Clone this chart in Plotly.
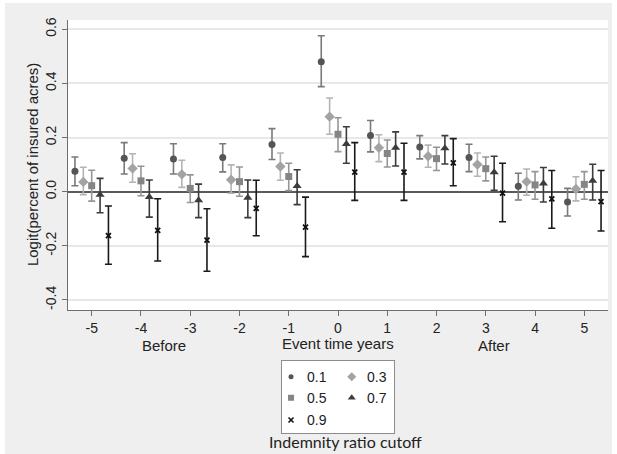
import plotly.graph_objects as go

# ---------------- data ----------------
event_time = [-5, -4, -3, -2, -1, 0, 1, 2, 3, 4, 5]
x_tick_labels = ["-5", "-4", "-3", "-2", "-1", "0", "1", "2", "3", "4", "5"]
y_tick_vals = [-0.4, -0.2, 0.0, 0.2, 0.4, 0.6]
y_tick_labels = ["-0.4", "-0.2", "0.0", "0.2", "0.4", "0.6"]

est_01 = [0.075, 0.123, 0.121, 0.126, 0.174, 0.480, 0.207, 0.165, 0.126, 0.020, -0.038]
hi_01 = [0.128, 0.181, 0.177, 0.177, 0.233, 0.576, 0.263, 0.207, 0.175, 0.068, 0.012]
lo_01 = [0.022, 0.065, 0.065, 0.073, 0.119, 0.388, 0.147, 0.121, 0.074, -0.031, -0.090]

est_03 = [0.036, 0.086, 0.064, 0.044, 0.093, 0.277, 0.162, 0.131, 0.100, 0.037, 0.010]
hi_03 = [0.090, 0.140, 0.116, 0.099, 0.143, 0.346, 0.210, 0.172, 0.143, 0.084, 0.055]
lo_03 = [-0.011, 0.035, 0.016, -0.006, 0.042, 0.212, 0.111, 0.090, 0.057, -0.013, -0.034]

est_05 = [0.022, 0.040, 0.012, 0.037, 0.056, 0.212, 0.141, 0.122, 0.085, 0.025, 0.027]
hi_05 = [0.079, 0.094, 0.062, 0.091, 0.105, 0.273, 0.191, 0.164, 0.128, 0.074, 0.074]
lo_05 = [-0.035, -0.015, -0.040, -0.017, 0.004, 0.148, 0.091, 0.078, 0.040, -0.028, -0.028]

est_07 = [-0.011, -0.020, -0.032, -0.022, 0.021, 0.176, 0.162, 0.160, 0.072, 0.030, 0.040]
hi_07 = [0.049, 0.043, 0.028, 0.043, 0.081, 0.240, 0.221, 0.207, 0.131, 0.089, 0.101]
lo_07 = [-0.078, -0.094, -0.096, -0.096, -0.048, 0.105, 0.095, 0.102, 0.005, -0.038, -0.031]

est_09 = [-0.162, -0.143, -0.179, -0.062, -0.131, 0.072, 0.072, 0.106, -0.005, -0.027, -0.037]
hi_09 = [-0.053, -0.026, -0.063, 0.042, -0.020, 0.181, 0.179, 0.196, 0.105, 0.078, 0.078]
lo_09 = [-0.268, -0.256, -0.294, -0.163, -0.240, -0.032, -0.032, 0.022, -0.111, -0.135, -0.145]

cutoff_labels = ["0.1", "0.3", "0.5", "0.7", "0.9"]

# ---------------- styles ----------------
FONT = "Liberation Sans, Arial, sans-serif"
series = [
    # est, lo, hi, offset, symbol, size, marker color, ci color
    (est_01, lo_01, hi_01, -0.34, "circle", 7, "#555555", "#7a7a7a"),
    (est_03, lo_03, hi_03, -0.17, "diamond", 8, "#a3a3a3", "#b4b4b4"),
    (est_05, lo_05, hi_05, 0.0, "square", 7, "#858585", "#969696"),
    (est_07, lo_07, hi_07, 0.17, "triangle-up", 8, "#3c3c3c", "#3c3c3c"),
    (est_09, lo_09, hi_09, 0.34, "x-thin", 5, "#111111", "#1a1a1a"),
]

fig = go.Figure()
for lab, (est, lo, hi, off, sym, size, mcol, ccol) in zip(cutoff_labels, series):
    xs = [t + off for t in event_time]
    marker = dict(symbol=sym, size=size, color=mcol)
    if sym == "x-thin":
        marker["line"] = dict(color=mcol, width=1.8)
    fig.add_trace(go.Scatter(
        x=xs, y=est, mode="markers", name=lab, showlegend=False,
        marker=marker,
        error_y=dict(type="data", symmetric=False,
                     array=[h - e for h, e in zip(hi, est)],
                     arrayminus=[e - l for e, l in zip(est, lo)],
                     color=ccol, thickness=1.6, width=3.5),
        xaxis="x", yaxis="y",
    ))

# ---------------- manual legend (second axes) ----------------
leg_col_x = [0.083, 0.622]
leg_text_x = [0.207, 0.74]
leg_row_y = [0.783, 0.492, 0.184]
leg_sizes = {"circle": 5, "diamond": 7, "square": 6, "triangle-up": 7, "x-thin": 5}
annotations = []
for i, (lab, (est, lo, hi, off, sym, size, mcol, ccol)) in enumerate(zip(cutoff_labels, series)):
    r, c = divmod(i, 2)
    marker = dict(symbol=sym, size=leg_sizes[sym], color=mcol)
    if sym == "x-thin":
        marker["line"] = dict(color=mcol, width=1.6)
    fig.add_trace(go.Scatter(x=[leg_col_x[c]], y=[leg_row_y[r]], mode="markers",
                             marker=marker, showlegend=False, hoverinfo="skip",
                             xaxis="x2", yaxis="y2"))
    annotations.append(dict(x=leg_text_x[c], y=leg_row_y[r], xref="x2", yref="y2",
                            text=lab, showarrow=False, xanchor="left", yanchor="middle",
                            font=dict(family=FONT, size=14, color="#222222")))

# ---------------- text annotations ----------------
annotations += [
    dict(x=-3.54, y=0.25, xref="x", yref="paper", text="Before", showarrow=False,
         xanchor="center", yanchor="middle", font=dict(family=FONT, size=15, color="#222222")),
    dict(x=0.0, y=0.255, xref="x", yref="paper", text="Event time years", showarrow=False,
         xanchor="center", yanchor="middle", font=dict(family=FONT, size=15, color="#222222")),
    dict(x=3.16, y=0.25, xref="x", yref="paper", text="After", showarrow=False,
         xanchor="center", yanchor="middle", font=dict(family=FONT, size=15, color="#222222")),
    dict(x=-0.0667, y=0.668, xref="paper", yref="paper", text="Logit(percent of insured acres)",
         showarrow=False, textangle=-90, xanchor="center", yanchor="middle",
         font=dict(family=FONT, size=15, color="#222222")),
    dict(x=0.513, y=0.0283, xref="paper", yref="paper", text="Indemnity ratio cutoff",
         showarrow=False, xanchor="center", yanchor="middle",
         font=dict(family="Lato, Open Sans, sans-serif", size=16, color="#222222")),
]

# white outer strips (screenshot border)
shapes = [
    dict(type="rect", xref="paper", yref="paper", x0=-0.2, x1=-0.1167, y0=-0.1, y1=1.1,
         fillcolor="white", line=dict(width=0), layer="above"),
    dict(type="rect", xref="paper", yref="paper", x0=1.0074, x1=1.1, y0=-0.1, y1=1.1,
         fillcolor="white", line=dict(width=0), layer="above"),
    dict(type="rect", xref="paper", yref="paper", x0=-0.2, x1=1.1, y0=1.0392, y1=1.1,
         fillcolor="white", line=dict(width=0), layer="above"),
]

fig.update_layout(
    width=617, height=454,
    margin=dict(l=68, r=9, t=20, b=0, pad=0),
    paper_bgcolor="#efefef", plot_bgcolor="white",
    showlegend=False,
    font=dict(family=FONT, size=14, color="#222222"),
    xaxis=dict(domain=[0, 1], anchor="y", range=[-5.481, 5.481],
               tickvals=event_time, ticktext=x_tick_labels,
               showgrid=False, zeroline=False,
               showline=True, linecolor="#6e6e6e", linewidth=1,
               ticks="outside", ticklen=5, tickcolor="#6e6e6e", tickwidth=1,
               tickfont=dict(family=FONT, size=14, color="#222222")),
    yaxis=dict(domain=[0.3318, 1], anchor="x", range=[-0.437, 0.634],
               tickvals=y_tick_vals, ticktext=y_tick_labels, tickangle=-90,
               showgrid=True, gridcolor="#e8e8e8", gridwidth=1.5,
               zeroline=True, zerolinecolor="#5a5a5a", zerolinewidth=1.6,
               showline=True, linecolor="#6e6e6e", linewidth=1,
               ticks="outside", ticklen=5, tickcolor="#6e6e6e", tickwidth=1,
               tickfont=dict(family=FONT, size=14, color="#222222")),
    xaxis2=dict(domain=[0.3957, 0.6043], anchor="y2", range=[0, 1],
                showgrid=False, zeroline=False, showticklabels=False, ticks="",
                showline=True, mirror=True, linecolor="#8c8c8c", linewidth=1, fixedrange=True),
    yaxis2=dict(domain=[0.0477, 0.2143], anchor="x2", range=[0, 1],
                showgrid=False, zeroline=False, showticklabels=False, ticks="",
                showline=True, mirror=True, linecolor="#8c8c8c", linewidth=1, fixedrange=True),
    annotations=annotations,
    shapes=shapes,
)

fig.write_html("out.html", config={"displayModeBar": False},
               post_script="document.body.style.margin='0';document.body.style.overflow='hidden';")
